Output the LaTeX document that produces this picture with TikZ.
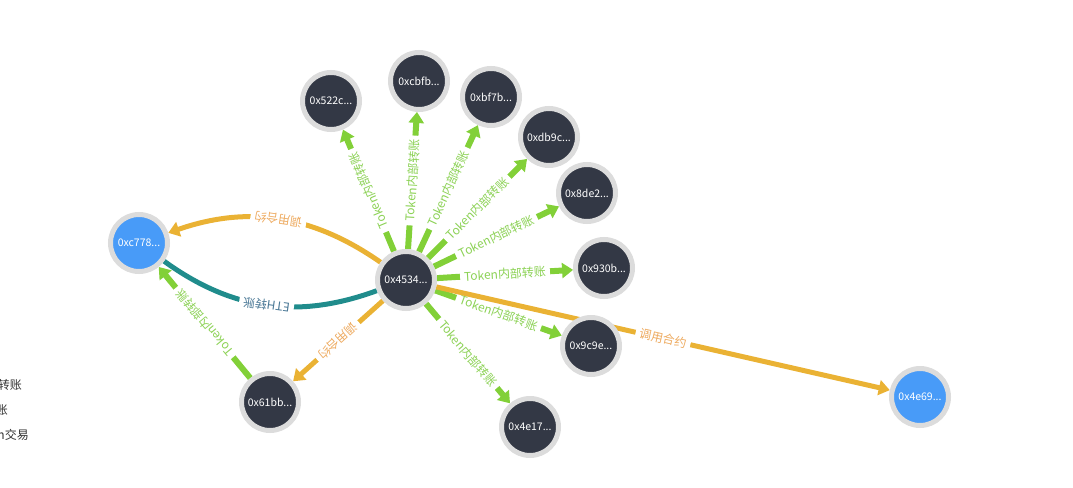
\documentclass[tikz,border=0pt]{standalone}
\usepackage{fontspec}
\setmainfont{Noto Sans CJK SC}
\usetikzlibrary{arrows.meta}
\definecolor{nodedark}{RGB}{51,56,69}
\definecolor{nodeblue}{RGB}{72,155,248}
\definecolor{ring}{RGB}{220,220,220}
\definecolor{edgegreen}{RGB}{130,208,56}
\definecolor{edgeorange}{RGB}{234,178,52}
\definecolor{edgeteal}{RGB}{32,140,140}
\definecolor{lblgreen}{RGB}{140,210,85}
\definecolor{lblorange}{RGB}{238,170,95}
\definecolor{lblteal}{RGB}{74,120,150}
\definecolor{legendtext}{RGB}{51,51,51}
\pgfdeclarelayer{bg}
\pgfsetlayers{bg,main}
\begin{document}
\begin{tikzpicture}[x=1pt,y=-1pt,
  addr/.style={circle,draw=ring,line width=5pt,fill=nodedark,minimum size=57pt,inner sep=0pt,text=white,font=\fontsize{10.5}{12}\selectfont},
  contract/.style={addr,fill=nodeblue},
  tip/.style={-{Triangle[length=11pt,width=15pt]}},
  tok/.style={draw=edgegreen,line width=6pt,tip},
  call/.style={draw=edgeorange,line width=5pt,tip},
  eth/.style={draw=edgeteal,line width=5pt},
  lbl/.style={midway,sloped,allow upside down,fill=white,inner sep=4pt,font=\fontsize{12}{14}\selectfont},
  glbl/.style={lbl,text=lblgreen},
  olbl/.style={lbl,text=lblorange},
  tlbl/.style={lbl,text=lblteal},
  legend/.style={anchor=east,inner sep=0pt,text=legendtext,font=\fontsize{12}{14}\selectfont}
]
\useasboundingbox (0,0) rectangle (1073,487);

% nodes
\node[addr] (c) at (406,280) {0x4534...};
\node[addr] (a522) at (331,101) {0x522c...};
\node[addr] (acbf) at (419,81) {0xcbfb...};
\node[addr] (abf7) at (491,97) {0xbf7b...};
\node[addr] (adb9) at (549,137) {0xdb9c...};
\node[addr] (a8de) at (587,193) {0x8de2...};
\node[addr] (a930) at (604,268) {0x930b...};
\node[addr] (a9c9) at (591,346) {0x9c9e...};
\node[addr] (a4e17) at (530,427) {0x4e17...};
\node[addr] (a61b) at (270,402) {0x61bb...};
\node[contract] (ac77) at (139,243) {0xc778...};
\node[contract] (a4e69) at (920,397) {0x4e69...};

% legend (cut off at the left edge)
\node[legend] (lg1) at (22,385) {转账};
\node[legend] (lg2) at (8,410) {账};
\node[legend] (lg3) at (29,435) {n交易};

\begin{pgfonlayer}{bg}
\draw[tok] (c) -- node[glbl] {Token内部转账} (a522);
\draw[tok] (c) -- node[glbl] {Token内部转账} (acbf);
\draw[tok] (c) -- node[glbl] {Token内部转账} (abf7);
\draw[tok] (c) -- node[glbl] {Token内部转账} (adb9);
\draw[tok] (c) -- node[glbl] {Token内部转账} (a8de);
\draw[tok] (c) -- node[glbl] {Token内部转账} (a930);
\draw[tok] (c) -- node[glbl] {Token内部转账} (a9c9);
\draw[tok] (c) -- node[glbl] {Token内部转账} (a4e17);
\draw[tok] (a61b) -- node[glbl] {Token内部转账} (ac77);
\draw[eth] (c) to[bend left=28] node[tlbl] {ETH转账} (ac77);
\draw[call] (c) to[bend right=27] node[olbl] {调用合约} (ac77);
\draw[call] (c) -- node[olbl] {调用合约} (a61b);
\draw[call] (c) -- node[olbl] {调用合约} (a4e69);
\end{pgfonlayer}
\end{tikzpicture}
\end{document}
